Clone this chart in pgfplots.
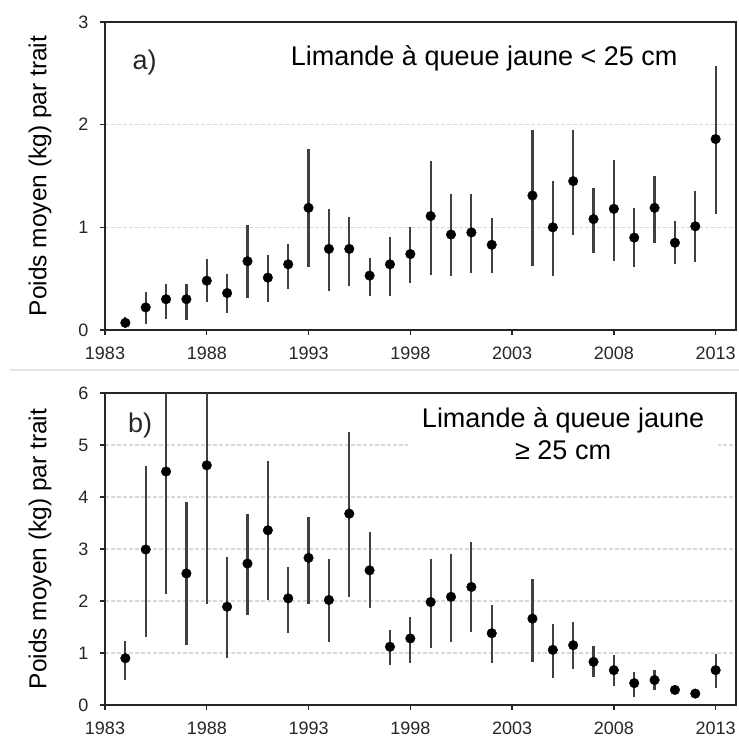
\documentclass[border=0pt]{standalone}
\usepackage{fontspec}
\setmainfont{Liberation Sans}
\usepackage{pgfplots}
\usepackage{pgfplotstable}
\pgfplotsset{compat=1.18}

\pgfplotstableread{
x y lo hi
1984 0.07 0.02 0.13
1985 0.22 0.06 0.37
1986 0.30 0.11 0.45
1987 0.30 0.10 0.45
1988 0.48 0.27 0.69
1989 0.36 0.17 0.55
1990 0.67 0.31 1.02
1991 0.51 0.27 0.73
1992 0.64 0.40 0.84
1993 1.19 0.61 1.76
1994 0.79 0.38 1.18
1995 0.79 0.43 1.10
1996 0.53 0.33 0.70
1997 0.64 0.33 0.91
1998 0.74 0.46 1.00
1999 1.11 0.54 1.65
2000 0.93 0.53 1.32
2001 0.95 0.56 1.32
2002 0.83 0.56 1.09
2004 1.31 0.62 1.95
2005 1.00 0.53 1.45
2006 1.45 0.93 1.95
2007 1.08 0.75 1.38
2008 1.18 0.67 1.66
2009 0.90 0.61 1.19
2010 1.19 0.85 1.50
2011 0.85 0.64 1.06
2012 1.01 0.66 1.35
2013 1.86 1.13 2.57
}\dataA

\pgfplotstableread{
x y lo hi
1984 0.90 0.48 1.23
1985 2.99 1.31 4.59
1986 4.49 2.14 6.80
1987 2.53 1.15 3.90
1988 4.61 1.95 7.20
1989 1.89 0.90 2.85
1990 2.72 1.73 3.68
1991 3.36 2.02 4.70
1992 2.05 1.38 2.66
1993 2.83 1.95 3.61
1994 2.02 1.22 2.80
1995 3.68 2.08 5.25
1996 2.59 1.86 3.33
1997 1.12 0.77 1.44
1998 1.28 0.80 1.70
1999 1.98 1.09 2.80
2000 2.08 1.22 2.91
2001 2.27 1.41 3.13
2002 1.38 0.80 1.92
2004 1.66 0.83 2.43
2005 1.06 0.51 1.55
2006 1.15 0.70 1.60
2007 0.83 0.54 1.13
2008 0.67 0.36 0.96
2009 0.42 0.16 0.63
2010 0.48 0.29 0.67
2011 0.29 0.22 0.35
2012 0.22 0.17 0.26
2013 0.67 0.32 0.99
}\dataB

\pgfplotsset{
  panel/.style={
    scale only axis,
    width=631pt,
    anchor=north west,
    xmin=1983, xmax=2014,
    xtick={1983,1988,...,2013},
    tick align=outside,
    xtick pos=bottom, ytick pos=left,
    major tick length=5pt,
    every tick/.style={black!85, line width=1.3pt},
    axis line style={black!85, line width=1.8pt},
    ticklabel style={font=\fontsize{18}{20}\selectfont, black!85},
    /pgf/number format/assume math mode=true,
    xticklabel style={/pgf/number format/1000 sep={}, yshift=-8pt},
    yticklabel style={xshift=-8pt},
    ymajorgrids,
    major grid style={gray!30, line width=1.6pt, dash pattern=on 4pt off 2pt},
    every axis y label/.style={at={(axis description cs:-0.103,0.5)}, rotate=90, anchor=center, font=\fontsize{24.5}{28}\selectfont},
  },
  pts/.style={only marks, mark=*, mark size=4.8pt, black, mark options={fill=black},
    error bars/.cd, y dir=both, y explicit, error mark=none,
    error bar style={line width=2.2pt, black!75}},
}

\begin{document}
\begin{tikzpicture}[x=1pt,y=1pt]
\useasboundingbox (0,0) rectangle (739,-737);
\draw[gray!20, line width=2pt] (10,-370) -- (739,-370);

\begin{axis}[panel, at={(105pt,-22pt)}, height=308pt,
  ymin=0, ymax=3, ytick={0,1,2,3},
  ylabel={Poids moyen (kg) par trait}]
\addplot[pts] table[x=x, y=y, y error plus expr=\thisrow{hi}-\thisrow{y}, y error minus expr=\thisrow{y}-\thisrow{lo}] {\dataA};
\node[anchor=west, font=\fontsize{27}{30}\selectfont, black!85] at (rel axis cs:0.038,0.87) {a)};
\node[font=\fontsize{27}{32}\selectfont] at (rel axis cs:0.601,0.883) {Limande à queue jaune < 25 cm};
\end{axis}

\begin{axis}[panel, at={(105pt,-393pt)}, height=312pt,
  ymin=0, ymax=6, ytick={0,1,...,6},
  ylabel={Poids moyen (kg) par trait}]
\addplot[pts] table[x=x, y=y, y error plus expr=\thisrow{hi}-\thisrow{y}, y error minus expr=\thisrow{y}-\thisrow{lo}] {\dataB};
\node[anchor=west, font=\fontsize{27}{30}\selectfont, black!85] at (rel axis cs:0.031,0.897) {b)};
\node[align=center, fill=white, inner xsep=14pt, inner ysep=2pt, font=\fontsize{27}{32}\selectfont] at (rel axis cs:0.726,0.869) {Limande à queue jaune\\≥ 25 cm};
\end{axis}
\end{tikzpicture}
\end{document}
